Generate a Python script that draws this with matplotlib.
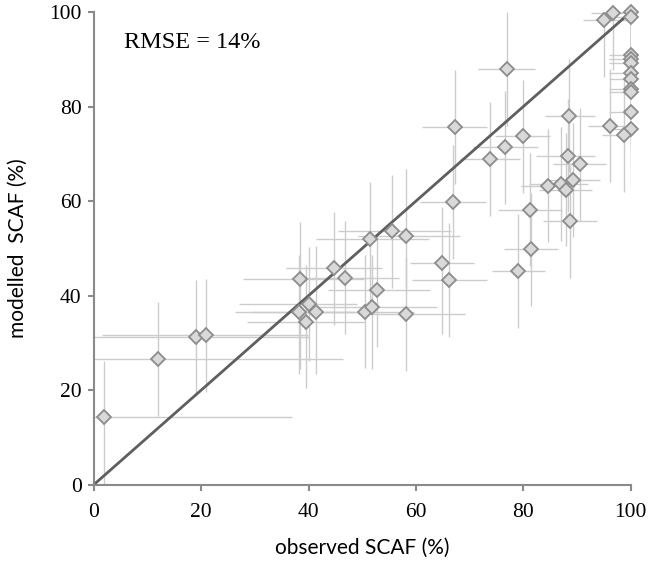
import matplotlib
matplotlib.use("Agg")
import matplotlib.pyplot as plt
import numpy as np

observed = [1.9, 11.9, 19.1, 20.9, 38.4, 38.2, 40.1, 39.5, 41.3, 44.7, 46.8, 51.4, 50.6, 51.9,
            52.7, 55.5, 58.2, 58.2, 64.9, 66.2, 67.0, 67.2, 76.9, 76.7, 73.8, 79.9, 88.6, 88.4,
            90.5, 89.3, 84.6, 87.1, 87.9, 81.3, 88.7, 79.1, 81.4, 100, 100, 96.7, 95.1, 100,
            100, 100, 100, 100, 100, 100, 100, 100, 98.7, 96.1]
modelled = [14.2, 26.6, 31.2, 31.6, 43.5, 36.5, 38.2, 34.5, 36.5, 45.8, 43.8, 52.0, 36.6, 37.5,
            41.2, 53.6, 52.7, 36.1, 46.8, 43.3, 59.8, 75.7, 88.0, 71.4, 68.9, 73.7, 78.1, 69.6,
            67.8, 64.5, 63.3, 63.6, 62.4, 58.2, 55.7, 45.2, 49.8, 100, 99.0, 99.8, 98.3, 91.0,
            90.1, 89.2, 87.2, 85.8, 83.7, 83.2, 78.8, 75.3, 73.9, 76.0]
obs_err_low = [1.9, 11.9, 19.1, 19.5, 10.6, 12, 13, 11, 12, 9, 10, 10, 12, 11,
               9, 10, 9, 9, 6, 7, 6.3, 6, 5.3, 6, 5.6, 5.2, 4.5, 6,
               5, 5, 5, 6, 5, 6, 5, 5, 5, 3, 3, 4, 4, 4,
               4, 4, 4, 4, 4, 4, 4, 3, 4, 4]
obs_err_high = [35, 34.5, 21, 19, 12, 10, 9, 11, 11, 9, 10, 11, 9, 12,
                10, 11, 10, 11, 6, 7, 6.1, 6, 5.3, 6, 5.6, 5.1, 4.8, 5,
                5, 5, 5, 5, 5, 6, 5, 5, 5, 0, 0, 3.3, 4.9, 0,
                0, 0, 0, 0, 0, 0, 0, 0, 1.3, 3.9]
mod_err_low = [14, 12, 12, 12, 19, 13, 12, 14, 13, 12, 12, 14, 12, 13,
               12, 12, 12, 12, 15, 12, 12, 12, 12, 12, 12, 12, 12, 12,
               12, 12, 12, 12, 12, 12, 12, 12, 12, 12, 12, 12, 12, 12,
               12, 12, 12, 12, 12, 12, 12, 12, 12, 12]
mod_err_high = [12, 12, 12, 12, 12, 12, 12, 12, 14, 12, 12, 12, 12, 11,
                12, 12, 14, 12, 12, 12, 12, 12, 12, 12, 12, 12, 12, 12,
                12, 12, 12, 12, 12, 12, 12, 12, 12, 0, 0, 0, 1.7, 9,
                9, 10, 12, 12, 12, 12, 12, 12, 12, 12]

fig = plt.figure(figsize=(6.51, 5.62), dpi=100)
ax = fig.add_axes([94/651, 1-484.5/562, (630.5-94)/651, (484.5-12.2)/562])

ax.errorbar(observed, modelled,
            xerr=[obs_err_low, obs_err_high], yerr=[mod_err_low, mod_err_high],
            fmt='none', ecolor='#cccccc', elinewidth=1.0, capsize=0, zorder=1)
ax.plot([0, 100], [0, 100], color='#5f5f5f', lw=2, zorder=2)
ax.plot(observed, modelled, linestyle='none', marker='D', ms=7,
        mfc='#d9d9d9', mec='#8c8c8c', mew=1.3, zorder=3, clip_on=False)

ax.set_xlim(0, 100)
ax.set_ylim(0, 100)
ticks = [0, 20, 40, 60, 80, 100]
ax.set_xticks(ticks)
ax.set_yticks(ticks)
serif = ['Liberation Serif', 'DejaVu Serif']
ax.set_xticklabels([str(t) for t in ticks], family=serif, fontsize=15.5)
ax.set_yticklabels([str(t) for t in ticks], family=serif, fontsize=15.5)
ax.tick_params(axis='x', direction='out', length=4, width=1.5, color='#8a8a8a', pad=9)
ax.tick_params(axis='y', direction='out', length=4, width=1.5, color='#8a8a8a', pad=5)
for s in ['top', 'right']:
    ax.spines[s].set_visible(False)
for s in ['left', 'bottom']:
    ax.spines[s].set_color('#8a8a8a')
    ax.spines[s].set_linewidth(1.5)

ax.set_xlabel('observed SCAF (%)', family=['Lato', 'DejaVu Sans'], fontsize=15, labelpad=12)
ax.set_ylabel('modelled  SCAF (%)', family=['Lato', 'DejaVu Sans'], fontsize=15, labelpad=15)
ax.text(5.5, 93.5, 'RMSE = 14%', family=serif, fontsize=17.5, va='center', ha='left')

fig.savefig('out.png', dpi=100)
